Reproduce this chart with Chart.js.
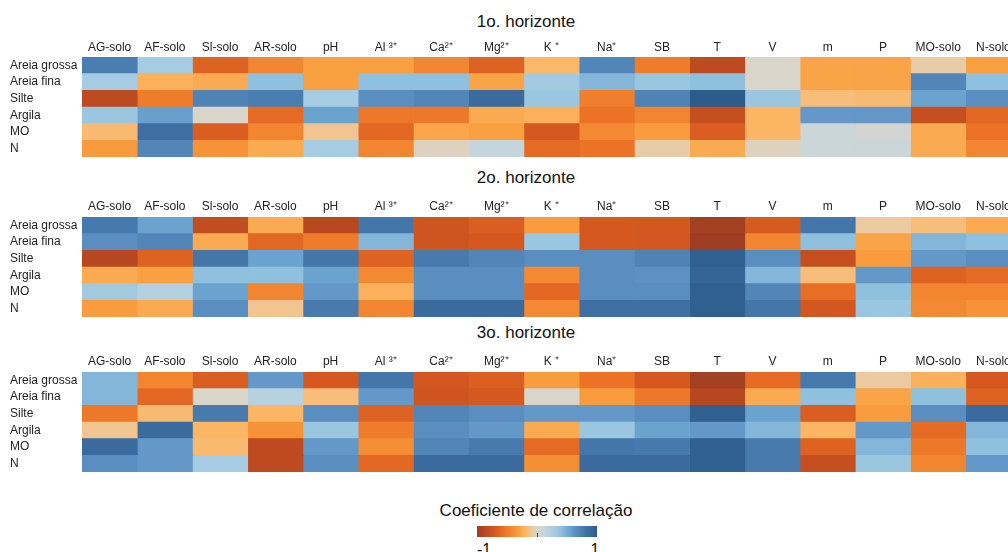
<!DOCTYPE html>
<html>
<head>
<meta charset="utf-8">
<script src="https://cdn.jsdelivr.net/npm/chart.js@4.4.0/dist/chart.umd.min.js"></script>
<style>
  html, body {
    margin: 0;
    padding: 0;
    background: #ffffff;
    overflow: hidden;
  }
  #page {
    position: relative;
    width: 1008px;
    height: 552px;
    overflow: hidden;
    font-family: "Liberation Sans", Arial, sans-serif;
    color: #111111;
  }
  .title {
    position: absolute;
    left: 0;
    width: 1052px;
    text-align: center;
    font-size: 17px;
    line-height: 20px;
  }
  .heat {
    position: absolute;
    left: 0;
  }
  #legendTitle {
    position: absolute;
    left: 0;
    width: 1072px;
    top: 501px;
    text-align: center;
    font-size: 17px;
    line-height: 20px;
  }
  #legendBar {
    position: absolute;
    left: 477px;
    top: 526px;
    width: 120px;
    height: 11px;
  }
  #legendTick {
    position: absolute;
    left: 537px;
    top: 533px;
    width: 1px;
    height: 4px;
    background: #444444;
  }
  .legendLabel {
    position: absolute;
    top: 540px;
    font-size: 16px;
    line-height: 20px;
    width: 30px;
    text-align: center;
  }
</style>
</head>
<body>
<div id="page">
  <div class="title" style="top: 12px;">1o. horizonte</div>
  <canvas id="heat1" class="heat" style="top: 36px;" width="1030" height="122"></canvas>
  <div class="title" style="top: 168px;">2o. horizonte</div>
  <canvas id="heat2" class="heat" style="top: 196px;" width="1030" height="122"></canvas>
  <div class="title" style="top: 323px;">3o. horizonte</div>
  <canvas id="heat3" class="heat" style="top: 351px;" width="1030" height="122"></canvas>

  <div id="legendTitle">Coeficiente de correlação</div>
  <div id="legendBar"></div>
  <div id="legendTick"></div>
  <div class="legendLabel" style="left: 469px;">-1</div>
  <div class="legendLabel" style="left: 580px;">1</div>
</div>

<script>
const rowLabels = ["Areia grossa", "Areia fina", "Silte", "Argila", "MO", "N"];
const colLabels = ["AG-solo", "AF-solo", "Sl-solo", "AR-solo", "pH", "Al \u00b3\u207a", "Ca\u00b2\u207a", "Mg\u00b2\u207a",
  "K \u207a", "Na\u207a", "SB", "T", "V", "m", "P", "MO-solo", "N-solo"];

// correlation values, one array per row (rowLabels order), columns in colLabels order
const horizonte1 = [
  [0.75, 0.3, -0.65, -0.45, -0.3, -0.3, -0.45, -0.65, -0.18, 0.7, -0.5, -0.85, 0, -0.28, -0.28, -0.06, -0.3],
  [0.3, -0.22, -0.25, 0.4, -0.3, 0.4, 0.4, -0.28, 0.32, 0.45, 0.35, 0.4, 0, -0.28, -0.28, 0.7, 0.4],
  [-0.85, -0.5, 0.72, 0.75, 0.3, 0.65, 0.7, 0.88, 0.35, -0.48, 0.72, 1.0, 0.35, -0.15, -0.17, 0.55, 0.65],
  [0.35, 0.57, 0, -0.6, 0.55, -0.52, -0.52, -0.25, -0.22, -0.55, -0.45, -0.8, -0.2, 0.6, 0.6, -0.8, -0.62],
  [-0.17, 0.85, -0.68, -0.45, -0.1, -0.62, -0.27, -0.3, -0.72, -0.43, -0.32, -0.68, -0.2, 0.08, 0.04, -0.25, -0.55],
  [-0.33, 0.7, -0.37, -0.25, 0.3, -0.45, -0.02, 0.12, -0.6, -0.55, -0.06, -0.25, -0.02, 0.08, 0.08, -0.25, -0.45]
];

const horizonte2 = [
  [0.78, 0.55, -0.82, -0.25, -0.87, 0.8, -0.75, -0.68, -0.32, -0.72, -0.73, -0.97, -0.7, 0.8, -0.07, -0.15, -0.25],
  [0.65, 0.7, -0.25, -0.62, -0.5, 0.45, -0.75, -0.72, 0.35, -0.72, -0.73, -1.0, -0.45, 0.4, -0.28, 0.45, 0.4],
  [-0.88, -0.65, 0.8, 0.55, 0.8, -0.65, 0.77, 0.7, 0.65, 0.65, 0.72, 0.97, 0.65, -0.8, -0.32, 0.6, 0.65],
  [-0.25, -0.3, 0.4, 0.4, 0.55, -0.42, 0.65, 0.65, -0.42, 0.65, 0.63, 0.92, 0.45, -0.15, 0.6, -0.65, -0.6],
  [0.32, 0.22, 0.55, -0.45, 0.6, -0.22, 0.65, 0.65, -0.62, 0.65, 0.65, 0.97, 0.7, -0.58, 0.4, -0.45, -0.45],
  [-0.32, -0.25, 0.65, -0.1, 0.77, -0.45, 0.88, 0.88, -0.42, 0.85, 0.85, 0.97, 0.8, -0.73, 0.35, -0.42, -0.37]
];

const horizonte3 = [
  [0.45, -0.45, -0.68, 0.6, -0.72, 0.8, -0.73, -0.67, -0.32, -0.55, -0.72, -0.97, -0.6, 0.78, -0.07, -0.22, -0.72],
  [0.45, -0.62, 0, 0.2, -0.15, 0.6, -0.75, -0.72, 0, -0.32, -0.52, -0.88, -0.25, 0.4, -0.28, 0.4, -0.65],
  [-0.52, -0.17, 0.77, -0.2, 0.65, -0.65, 0.7, 0.65, 0.6, 0.6, 0.65, 0.97, 0.55, -0.68, -0.32, 0.65, 0.88],
  [-0.1, 0.88, -0.2, -0.37, 0.35, -0.5, 0.65, 0.6, -0.25, 0.35, 0.55, 0.6, 0.45, -0.2, 0.6, -0.6, 0.45],
  [0.88, 0.6, -0.17, -0.85, 0.6, -0.4, 0.7, 0.77, -0.6, 0.8, 0.78, 0.97, 0.77, -0.65, 0.45, -0.52, 0.4],
  [0.65, 0.6, 0.3, -0.85, 0.65, -0.62, 0.88, 0.88, -0.4, 0.88, 0.88, 0.97, 0.77, -0.8, 0.35, -0.45, 0.6]
];

// orange-blue diverging scale
const colorStops = [
  [-1.0, "#9e3d22"], [-0.85, "#bd4a20"], [-0.7, "#d75a20"], [-0.55, "#ec7226"],
  [-0.45, "#f28530"], [-0.3, "#f9a040"], [-0.2, "#fbb563"], [-0.1, "#f2c590"],
  [0, "#d9d5c9"], [0.1, "#c8d6dc"], [0.3, "#a5cce2"], [0.4, "#8fc0de"],
  [0.55, "#6ba3cf"], [0.65, "#5a8dc0"], [0.75, "#4a7db0"], [0.88, "#3a6a9e"], [1.0, "#2b5c8a"]
];

function hexToRgb(hex) {
  const n = parseInt(hex.slice(1), 16);
  return [(n >> 16) & 255, (n >> 8) & 255, n & 255];
}

function colorFor(value) {
  for (let i = 1; i < colorStops.length; i++) {
    const [v1, c1] = colorStops[i];
    if (value <= v1) {
      const [v0, c0] = colorStops[i - 1];
      const t = (value - v0) / (v1 - v0);
      const a = hexToRgb(c0);
      const b = hexToRgb(c1);
      const mix = a.map((x, k) => Math.round(x + (b[k] - x) * t));
      return `rgb(${mix[0]}, ${mix[1]}, ${mix[2]})`;
    }
  }
  return colorStops[colorStops.length - 1][1];
}

function noEdgePadding(scale) {
  scale.paddingTop = 0;
  scale.paddingBottom = 0;
  scale.paddingLeft = 0;
  scale.paddingRight = 0;
}

function makeHeatmap(canvasId, values, labelGap) {
  return new Chart(document.getElementById(canvasId), {
    type: "bar",
    data: {
      labels: rowLabels,
      datasets: colLabels.map((col, j) => ({
        label: col,
        data: rowLabels.map(() => 1),
        backgroundColor: values.map((row) => colorFor(row[j])),
        borderWidth: 0,
        barPercentage: 1,
        categoryPercentage: 1
      }))
    },
    options: {
      indexAxis: "y",
      responsive: false,
      animation: false,
      layout: {
        padding: { left: 10, right: 9, top: 0, bottom: 1 }
      },
      plugins: {
        legend: { display: false },
        tooltip: { enabled: false }
      },
      scales: {
        x: {
          stacked: true,
          position: "top",
          min: 0,
          max: colLabels.length,
          grid: { display: false, drawTicks: false },
          border: { display: false },
          afterBuildTicks: (scale) => {
            scale.ticks = colLabels.map((_, j) => ({ value: j + 0.5 }));
          },
          afterFit: (scale) => {
            scale.height = 21;
            noEdgePadding(scale);
          },
          ticks: {
            autoSkip: false,
            maxRotation: 0,
            padding: labelGap,
            color: "#222222",
            font: { family: "'Liberation Sans', Arial, sans-serif", size: 12 },
            callback: (value, index) => colLabels[index]
          }
        },
        y: {
          stacked: true,
          grid: { display: false, drawTicks: false },
          border: { display: false },
          afterFit: (scale) => {
            scale.width = 72;
            noEdgePadding(scale);
          },
          ticks: {
            autoSkip: false,
            crossAlign: "far",
            padding: 0,
            color: "#222222",
            font: { family: "'Liberation Sans', Arial, sans-serif", size: 12 }
          }
        }
      }
    }
  });
}

makeHeatmap("heat1", horizonte1, 2);
makeHeatmap("heat2", horizonte2, 3);
makeHeatmap("heat3", horizonte3, 3);

const gradient = colorStops.map(([v, c]) => `${c} ${((v + 1) * 50).toFixed(1)}%`).join(", ");
document.getElementById("legendBar").style.background = `linear-gradient(to right, ${gradient})`;
</script>
</body>
</html>
